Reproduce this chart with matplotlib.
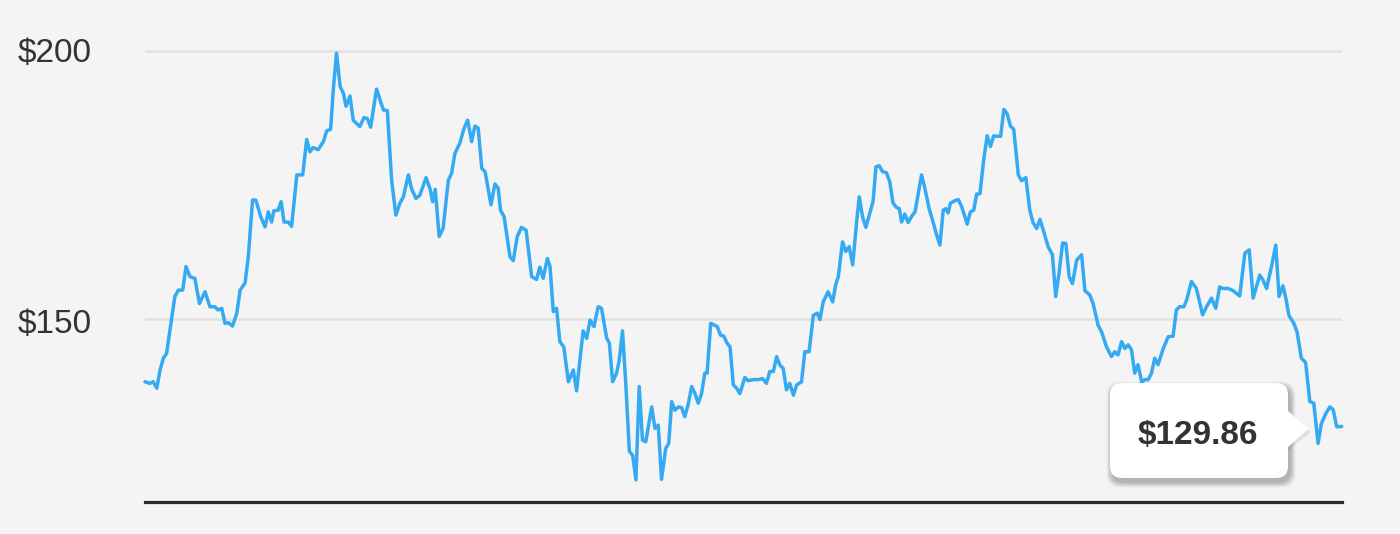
import matplotlib
matplotlib.use('Agg')
import matplotlib.pyplot as plt
from matplotlib.patches import FancyBboxPatch, Polygon
from matplotlib.transforms import blended_transform_factory, offset_copy

# ---- data (day offset within the period, closing price) ----
days = [
    0.0, 1.5, 2.5, 3.6, 4.6, 5.6, 6.6, 7.6, 9.1, 10.2, 11.5, 12.5, 13.7, 15.2, 16.6, 18.3,
    19.8, 21.3, 22.3, 23.4, 24.4, 25.4, 26.7, 28.0, 29.0, 30.5, 31.5, 32.8, 33.8, 35.3, 36.6,
    37.6, 38.6, 39.3, 40.6, 41.5, 42.4, 43.7, 44.7,
    46.3, 48.1, 49.3, 50.3, 51.3, 52.8, 54.4, 55.4, 56.6, 57.4, 58.4, 59.5, 60.5, 61.3, 62.5,
    63.5, 65.5, 66.8, 67.8, 68.8, 70.6, 72.7, 73.9, 75.2, 76.5, 77.7, 78.8, 80.3, 81.3, 82.6,
    83.8, 85.7, 86.9, 87.7, 88.5, 89.7, 90.9,
    92.5, 93.5, 94.5, 96.0, 97.3, 98.4, 99.6, 100.6, 101.6, 102.7, 103.7, 105.5, 106.7, 107.7,
    108.4, 109.5, 111.3, 112.3, 113.5, 114.8, 116.2, 117.9, 119.4, 120.4, 121.4, 122.7, 123.5,
    124.5, 125.5, 126.5, 127.7, 129.1, 130.6, 131.6, 132.6, 133.6, 134.7, 135.7,
    136.9, 138.2, 139.2, 140.8, 141.6, 142.6, 143.8, 144.6, 145.6, 146.6, 147.7, 148.7, 149.7,
    150.7, 151.7, 152.7, 154.5, 155.5, 156.5, 157.5, 158.8, 159.7, 160.6, 161.6, 162.6, 163.6,
    164.6, 165.6, 166.7, 167.7, 168.7, 169.7, 170.7, 171.4, 172.5, 173.5, 174.5, 175.5, 176.5,
    177.5, 178.4, 179.4, 180.4, 181.4,
    182.9, 183.9, 185.5, 187.0, 188.3, 189.5, 190.5, 191.6, 192.6, 193.6, 194.6, 195.6, 196.6,
    197.7, 198.7, 200.2, 201.2, 202.5, 203.8, 205.0, 205.8, 206.8, 208.3, 209.7, 210.6, 211.4,
    212.7, 213.7, 214.7, 215.8, 217.0, 217.8, 218.8, 219.8, 221.0, 222.0, 222.9, 223.9, 224.9,
    226.1,
    227.1, 228.1, 229.2, 230.0, 230.7, 231.7, 232.7, 233.7, 234.8, 235.8, 236.8, 237.8, 239.1,
    240.3, 241.4, 242.4, 243.4, 244.2, 244.9, 245.6, 247.0, 248.0, 249.0, 250.0, 250.7, 251.7,
    252.7, 253.6, 254.6, 255.8, 256.8, 257.8, 258.8, 259.8, 260.9, 261.9, 262.9, 263.9, 264.9,
    266.3, 267.3, 268.6, 269.8, 270.8, 271.9, 272.9,
    273.9, 275.4, 276.7, 277.7, 278.7, 279.8, 280.8, 281.8, 282.8, 284.1, 285.6, 286.6, 288.1,
    289.1, 290.6, 291.7, 293.2, 294.7, 295.7, 296.7, 297.8, 298.8, 299.8, 300.8, 301.8, 302.8,
    303.9, 304.9, 305.9, 306.9, 307.9, 308.9, 310.5, 312.0, 313.5, 314.5, 315.5, 316.8, 317.6,
    319.1,
    320.6, 322.5, 323.7, 325.2, 326.5, 327.7, 328.7, 330.3, 331.8, 333.8, 335.4, 336.7, 337.9,
    338.9, 339.9, 340.9, 342.0, 343.5, 344.8, 345.8, 347.0, 348.0, 348.8, 350.3, 351.3, 352.6,
    353.9, 355.2, 356.4, 357.7, 358.7, 360.1, 361.3, 362.3, 363.4, 364.9,
]
prices = [
    138.2, 137.9, 138.2, 137.0, 140.4, 142.6, 143.5, 147.8, 154.1, 155.3, 155.3, 159.7, 157.8,
    157.5, 152.8, 155.0, 152.2, 152.2, 151.6, 151.9, 149.1, 149.2, 148.6, 151.0, 155.3, 156.6,
    161.5, 172.1, 172.1, 169.0, 167.1, 169.9, 168.0, 170.1, 170.2, 171.8, 168.0, 168.0, 167.2,
    176.8, 176.8, 183.4, 181.1, 181.9, 181.5, 183.0, 185.0, 185.3, 192.6, 199.5, 193.3, 192.0,
    189.6, 191.5, 187.0, 185.8, 187.5, 187.3, 185.7, 192.8, 188.9, 188.8, 175.8, 169.3, 171.5,
    172.7, 176.8, 174.2, 172.4, 173.0, 176.3, 174.2, 171.8, 174.1, 165.3, 166.8,
    175.8, 177.1, 180.8, 182.7, 185.5, 187.0, 183.0, 185.9, 185.5, 178.0, 177.4, 171.2, 175.1,
    174.3, 170.2, 169.0, 161.5, 160.8, 165.3, 167.0, 166.5, 157.8, 157.3, 159.6, 157.5, 161.2,
    159.7, 151.3, 151.9, 145.7, 144.7, 138.2, 140.4, 136.5, 142.2, 147.7, 146.3, 149.7,
    148.5, 152.2, 151.9, 146.3, 145.4, 138.2, 139.8, 142.2, 147.7, 137.9, 125.2, 124.5, 119.9,
    137.3, 127.3, 127.0, 133.5, 129.5, 130.1, 120.0, 125.8, 126.7, 134.5, 132.9, 133.5, 133.4,
    131.7, 133.9, 137.3, 136.0, 134.2, 136.0, 139.8, 139.8, 149.1, 148.8, 148.5, 146.9, 146.7,
    145.4, 144.7, 137.6, 137.0, 136.0,
    139.0, 138.4, 138.6, 138.6, 138.8, 137.9, 140.1, 140.1, 142.9, 141.3, 140.7, 136.7, 137.9,
    135.7, 137.6, 138.2, 143.8, 143.8, 150.6, 151.0, 149.8, 153.1, 155.0, 153.1, 156.3, 157.8,
    164.3, 162.5, 163.4, 160.0, 168.1, 172.7, 169.0, 167.0, 169.6, 171.8, 178.3, 178.5, 177.4,
    177.2,
    175.5, 171.5, 170.7, 170.5, 168.0, 169.5, 167.9, 169.0, 169.9, 173.4, 176.8, 174.3, 170.5,
    168.0, 165.6, 163.7, 170.2, 170.5, 169.7, 171.5, 172.0, 172.2, 170.9, 169.0, 167.6, 169.9,
    170.2, 173.2, 173.3, 179.9, 184.1, 182.1, 184.1, 184.0, 184.0, 189.0, 188.2, 185.9, 185.3,
    176.8, 175.7, 176.3, 170.2, 167.9, 166.8, 168.5,
    166.5, 163.4, 161.9, 154.1, 158.4, 164.1, 164.0, 157.8, 156.5, 160.9, 161.9, 155.2, 154.4,
    152.8, 148.8, 147.5, 144.7, 142.9, 143.8, 143.2, 145.7, 144.4, 145.1, 144.2, 139.8, 141.4,
    138.2, 138.6, 138.6, 139.8, 142.6, 141.4, 144.4, 146.6, 146.7, 151.6, 152.2, 152.2, 153.4,
    156.9,
    155.6, 150.7, 152.2, 153.8, 151.9, 155.9, 155.6, 155.6, 155.2, 154.2, 162.2, 162.8, 153.8,
    155.9, 158.1, 157.2, 155.6, 159.7, 163.7, 154.1, 156.1, 153.4, 150.6, 149.1, 147.5, 142.6,
    141.8, 134.5, 134.2, 126.7, 130.4, 132.3, 133.5, 133.0, 129.8, 129.86,
]
tick_values = [200, 150]
tick_labels = ['$200', '$150']
last_label = '${:.2f}'.format(prices[-1])

# ---- styling ----
W, H = 1400, 534
BG = '#f4f4f4'
LINE = '#35aaf2'
TEXT = '#333333'
FONT = ['Liberation Sans', 'DejaVu Sans']

fig = plt.figure(figsize=(W / 100, H / 100), dpi=100)
fig.patch.set_facecolor(BG)

ax = fig.add_axes([145 / W, (H - 502) / H, (1342 - 145) / W, (502 - 40) / H])
ax.set_facecolor(BG)
ax.plot(days, prices, color=LINE, lw=2.5, solid_joinstyle='round',
        solid_capstyle='round', clip_on=False, zorder=3)
ax.set_xlim(0, 365)
ax.set_ylim(115.77, 201.96)

ax.set_yticks(tick_values)
ax.set_axisbelow(True)
ax.yaxis.grid(True, color='#e2e2e2', lw=1.8)
ax.xaxis.grid(False)
ax.tick_params(left=False, labelleft=False, bottom=False, labelbottom=False)
for s in ['top', 'right', 'left']:
    ax.spines[s].set_visible(False)
ax.spines['bottom'].set_color('#2d2d2d')
ax.spines['bottom'].set_linewidth(2.3)

trans = blended_transform_factory(fig.transFigure, ax.transData)
label_drop_px = [2.5, 6.0]  # label offset below its grid line, in pixels
for v, lab, d in zip(tick_values, tick_labels, label_drop_px):
    t = offset_copy(trans, fig=fig, x=0, y=-d * 0.72, units='points')
    ax.text(18 / W, v, lab, transform=t, ha='left', va='center',
            fontsize=24, color=TEXT, family=FONT, clip_on=False)

# ---- tooltip overlay (pixel coordinates of the figure) ----
ov = fig.add_axes([0, 0, 1, 1], zorder=5)
ov.set_xlim(0, W)
ov.set_ylim(H, 0)
ov.axis('off')
ov.patch.set_alpha(0)

bx, by, bw, bh = 1110, 383, 178, 95
for i in range(1, 10):
    sh = FancyBboxPatch((bx + 2 - i * 0.6, by + 4 - i * 0.6), bw + i * 1.2, bh + i * 1.2,
                        boxstyle='round,pad=0,rounding_size=14', fc='black', ec='none',
                        alpha=0.03)
    ov.add_patch(sh)
ov.add_patch(Polygon([(bx + bw - 2, 412), (bx + bw + 23, 432), (bx + bw - 2, 452)],
                     closed=True, fc='black', ec='none', alpha=0.08))
ov.add_patch(FancyBboxPatch((bx, by), bw, bh, boxstyle='round,pad=0,rounding_size=12',
                            fc='white', ec='none'))
ov.add_patch(Polygon([(bx + bw - 2, 409), (bx + bw + 20, 429), (bx + bw - 2, 449)],
                     closed=True, fc='white', ec='none'))
ov.text(bx + bw / 2 - 1, by + bh / 2 + 5, last_label, ha='center', va='center',
        fontsize=24, fontweight='bold', color=TEXT, family=FONT)

fig.savefig('out.png', dpi=100, facecolor=BG)
